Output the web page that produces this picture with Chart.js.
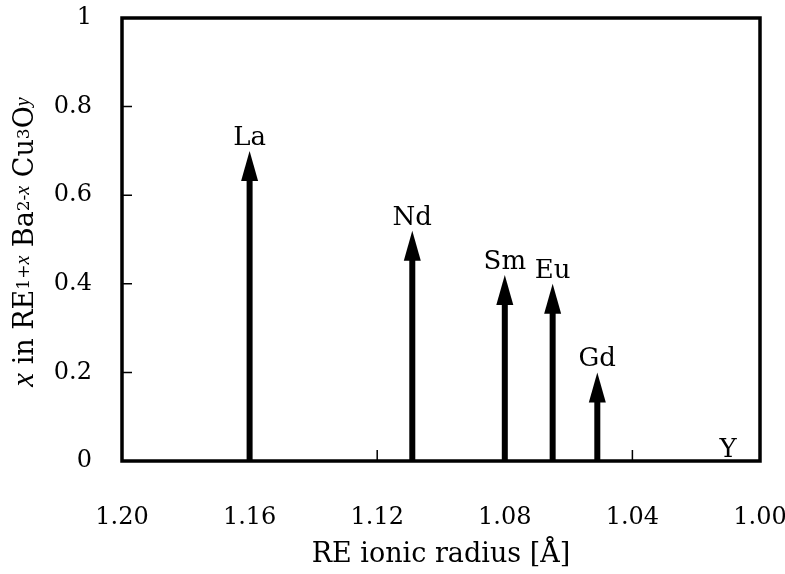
<!DOCTYPE html>
<html>
<head>
<meta charset="utf-8">
<script src="https://cdn.jsdelivr.net/npm/chart.js@4.4.0/dist/chart.umd.min.js"></script>
<style>
  html, body { margin: 0; padding: 0; background: #fff; }
  #wrap { width: 785px; height: 574px; }
</style>
</head>
<body>
<div id="wrap"><canvas id="chart"></canvas></div>
<script>
// data
const elements = ['La', 'Nd', 'Sm', 'Eu', 'Gd', 'Y'];
const ionicRadius = [1.160, 1.109, 1.080, 1.065, 1.051, 1.010];
const xContent = [0.70, 0.52, 0.42, 0.40, 0.20, 0];
const xTicks = [1.20, 1.16, 1.12, 1.08, 1.04, 1.00];
const yTicks = [0, 0.2, 0.4, 0.6, 0.8, 1];

const FONT = "'DejaVu Serif', serif";
const ITFONT = "'Liberation Serif', serif";

// y-axis title pieces (subscripts drawn smaller)
const yTitleParts = [
  { t: 'x', it: true }, { t: ' in RE' }, { t: '1+', sm: true }, { t: 'x', sm: true, it: true },
  { t: ' Ba' }, { t: '2-', sm: true }, { t: 'x', sm: true, it: true },
  { t: ' Cu' }, { t: '3', sm: true }, { t: 'O' }, { t: 'y', sm: true, it: true }
];

function partFont(p) {
  if (p.it) return 'italic ' + (p.sm ? '20px ' : '31px ') + ITFONT;
  return (p.sm ? '17px ' : '27px ') + FONT;
}

// arrows from the axis up to each data point, with element labels
const arrowPlugin = {
  id: 'arrows',
  afterDatasetsDraw(chart) {
    const { ctx, scales: { y } } = chart;
    const meta = chart.getDatasetMeta(0);
    const base = y.getPixelForValue(0);
    const head = 30, half = 8.5, shaft = 6;
    ctx.save();
    ctx.fillStyle = '#000';
    ctx.font = '26px ' + FONT;
    ctx.textAlign = 'center';
    ctx.textBaseline = 'alphabetic';
    meta.data.forEach((pt, i) => {
      if (xContent[i] > 0) {
        ctx.fillRect(pt.x - shaft / 2, pt.y + head - 1, shaft, base - pt.y - head + 1);
        ctx.beginPath();
        ctx.moveTo(pt.x, pt.y);
        ctx.lineTo(pt.x - half, pt.y + head);
        ctx.lineTo(pt.x + half, pt.y + head);
        ctx.closePath();
        ctx.fill();
        ctx.fillText(elements[i], pt.x, pt.y - 6);
      } else {
        ctx.fillText(elements[i], pt.x, pt.y - 4);
      }
    });
    ctx.restore();
  }
};

// box frame, inward ticks and the rich y title
const framePlugin = {
  id: 'frame',
  afterDraw(chart) {
    const { ctx, chartArea: a, scales: { x, y } } = chart;
    ctx.save();
    ctx.strokeStyle = '#000';
    ctx.lineWidth = 1.5;
    ctx.beginPath();
    xTicks.slice(1, -1).forEach(v => {
      const px = x.getPixelForValue(v);
      ctx.moveTo(px, a.bottom);
      ctx.lineTo(px, a.bottom - 11);
    });
    yTicks.slice(1, -1).forEach(v => {
      const py = y.getPixelForValue(v);
      ctx.moveTo(a.left, py);
      ctx.lineTo(a.left + 10, py);
    });
    ctx.stroke();
    ctx.lineWidth = 3.5;
    ctx.strokeRect(a.left, a.top, a.right - a.left, a.bottom - a.top);

    // y title
    ctx.fillStyle = '#000';
    ctx.textBaseline = 'alphabetic';
    ctx.textAlign = 'left';
    let total = 0;
    yTitleParts.forEach(p => { ctx.font = partFont(p); p.w = ctx.measureText(p.t).width; total += p.w; });
    ctx.translate(33, 242);
    ctx.rotate(-Math.PI / 2);
    let cx = -total / 2;
    yTitleParts.forEach(p => {
      ctx.font = partFont(p);
      ctx.fillText(p.t, cx, p.sm ? -4 : 0);
      cx += p.w;
    });
    ctx.restore();
  }
};

new Chart(document.getElementById('chart'), {
  type: 'scatter',
  data: {
    datasets: [{
      data: ionicRadius.map((r, i) => ({ x: r, y: xContent[i] })),
      pointRadius: 0,
      showLine: false
    }]
  },
  options: {
    responsive: true,
    maintainAspectRatio: false,
    animation: false,
    layout: { padding: { top: 18, right: 25, left: 0, bottom: 0 } },
    plugins: { legend: { display: false }, tooltip: { enabled: false } },
    scales: {
      x: {
        type: 'linear',
        reverse: true,
        min: 1.00,
        max: 1.20,
        afterBuildTicks: s => { s.ticks = xTicks.map(v => ({ value: v })); },
        afterFit: s => { s.height = 113; s.paddingLeft = 0; s.paddingRight = 0; },
        grid: { display: false, drawTicks: false },
        border: { display: false },
        ticks: {
          color: '#000',
          font: { family: FONT, size: 24 },
          padding: 42,
          maxRotation: 0,
          callback: v => v.toFixed(2)
        },
        title: {
          display: true,
          text: 'RE ionic radius [Å]',
          color: '#000',
          font: { family: FONT, size: 27 },
          padding: { top: 0, bottom: 3 }
        }
      },
      y: {
        min: 0,
        max: 1,
        afterBuildTicks: s => { s.ticks = yTicks.map(v => ({ value: v })); },
        afterFit: s => { s.width = 122; s.paddingTop = 0; s.paddingBottom = 0; },
        grid: { display: false, drawTicks: false },
        border: { display: false },
        ticks: {
          color: '#000',
          font: { family: FONT, size: 24 },
          padding: 30,
          callback: v => (v === 0 || v === 1) ? String(v) : v.toFixed(1)
        }
      }
    }
  },
  plugins: [arrowPlugin, framePlugin]
});
</script>
</body>
</html>
